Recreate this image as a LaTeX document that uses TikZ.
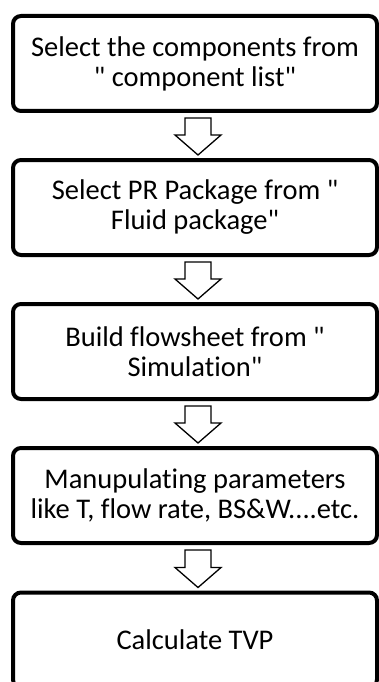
\documentclass[tikz,border=0pt]{standalone}
\usepackage{fontspec}
\setmainfont{Carlito}[Ligatures={NoCommon}]
\newfontfamily\qfont{Carlito}
\usetikzlibrary{calc}
\newcommand\qq{{\qfont\symbol{34}}}
\begin{document}
\begin{tikzpicture}[x=1pt,y=-1pt,
  box/.style={draw=black, line width=4pt, rounded corners=8pt, minimum width=364pt,
    minimum height=95pt, inner sep=0pt, outer sep=0pt, align=center,
    font=\fontsize{28.5}{30}\selectfont, text=black},
  blockarrow/.style={draw=black, line width=1.3pt, fill=white, line join=miter}]
\useasboundingbox[fill=white] (0,0) rectangle (378,682);
\newcommand\flowarrow[2]{%
  \draw[blockarrow] let \p1=($(#1.south)+(3,7)$), \p2=($(#2.north)+(3,-5)$) in
    (\x1-13pt,\y1) -- (\x1+13pt,\y1) -- (\x1+13pt,\y2+20pt) -- (\x1+23pt,\y2+20pt)
    -- (\x1,\y2) -- (\x1-23pt,\y2+20pt) -- (\x1-13pt,\y2+20pt) -- cycle;}
\node[box] (b1) at (195,63.5) {Select the components from\\\qq{} component list\qq};
\node[box] (b2) at (195,207.5) {Select PR Package from \qq\\Fluid package\qq};
\node[box] (b3) at (195,351.5) {Build flowsheet from \qq\\Simulation\qq};
\node[box] (b4) at (195,495.5) {Manupulating parameters\\like T, flow rate, BS\&W....etc.};
\node[box] (b5) at (195,640) {Calculate TVP};
\flowarrow{b1}{b2}
\flowarrow{b2}{b3}
\flowarrow{b3}{b4}
\flowarrow{b4}{b5}
\end{tikzpicture}
\end{document}
